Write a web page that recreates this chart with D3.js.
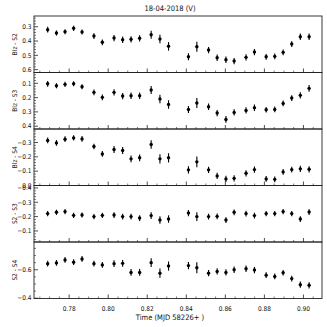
<!DOCTYPE html>
<html>
<head>
<meta charset="utf-8">
<script src="https://cdn.jsdelivr.net/npm/d3@7"></script>
<style>
    body { margin: 0; background: #fff; }
    svg text { font-family: "DejaVu Sans Condensed", "DejaVu Sans", sans-serif; fill: #111; }
</style>
</head>
<body>
<div id="chart"></div>
<script>
// Time (MJD 58226+) of each measurement
const times = [0.7690, 0.7735, 0.7779, 0.7823, 0.7866, 0.7927, 0.7970, 0.8030, 0.8074, 0.8117,
               0.8161, 0.8220, 0.8265, 0.8309, 0.8411, 0.8454, 0.8514, 0.8558, 0.8603, 0.8645,
               0.8706, 0.8749, 0.8809, 0.8853, 0.8896, 0.8940, 0.8984, 0.9029];

const blzS2 = [0.321, 0.344, 0.335, 0.311, 0.337, 0.365, 0.409, 0.379, 0.391, 0.388,
               0.381, 0.356, 0.386, 0.437, 0.510, 0.440, 0.463, 0.517, 0.531, 0.540,
               0.514, 0.477, 0.510, 0.507, 0.479, 0.421, 0.370, 0.370];
const errBlzS2 = [0.020, 0.018, 0.018, 0.018, 0.018, 0.020, 0.020, 0.022, 0.022, 0.022,
                  0.022, 0.028, 0.030, 0.030, 0.025, 0.035, 0.022, 0.022, 0.022, 0.022,
                  0.022, 0.022, 0.020, 0.020, 0.020, 0.020, 0.022, 0.022];

const blzS3 = [0.103, 0.117, 0.107, 0.103, 0.124, 0.163, 0.198, 0.163, 0.189, 0.187,
               0.187, 0.147, 0.210, 0.248, 0.283, 0.238, 0.264, 0.308, 0.353, 0.304,
               0.290, 0.271, 0.285, 0.283, 0.241, 0.203, 0.184, 0.135];
const errBlzS3 = [0.020, 0.018, 0.018, 0.018, 0.018, 0.020, 0.020, 0.022, 0.022, 0.022,
                  0.022, 0.028, 0.030, 0.030, 0.025, 0.035, 0.022, 0.022, 0.024, 0.022,
                  0.022, 0.022, 0.020, 0.020, 0.020, 0.020, 0.022, 0.024];

const blzS4 = [-0.314, -0.297, -0.323, -0.332, -0.325, -0.272, -0.220, -0.251, -0.244, -0.186,
               -0.193, -0.286, -0.186, -0.193, -0.109, -0.165, -0.109, -0.067, -0.046, -0.050,
               -0.085, -0.111, -0.046, -0.043, -0.095, -0.111, -0.116, -0.113];
const errBlzS4 = [0.020, 0.020, 0.020, 0.018, 0.020, 0.020, 0.020, 0.024, 0.024, 0.024,
                  0.024, 0.030, 0.032, 0.032, 0.025, 0.038, 0.022, 0.022, 0.022, 0.022,
                  0.022, 0.022, 0.020, 0.020, 0.020, 0.020, 0.022, 0.022];

const s2S3 = [-0.221, -0.230, -0.235, -0.209, -0.211, -0.200, -0.209, -0.211, -0.200, -0.200,
              -0.190, -0.207, -0.176, -0.183, -0.225, -0.200, -0.200, -0.202, -0.176, -0.230,
              -0.221, -0.207, -0.221, -0.221, -0.235, -0.221, -0.183, -0.232];
const errS2S3 = [0.018, 0.018, 0.018, 0.018, 0.018, 0.018, 0.018, 0.020, 0.020, 0.020,
                 0.020, 0.024, 0.026, 0.026, 0.022, 0.030, 0.020, 0.020, 0.020, 0.020,
                 0.020, 0.020, 0.018, 0.018, 0.018, 0.018, 0.020, 0.020];

const s2S4 = [-0.643, -0.648, -0.669, -0.653, -0.676, -0.643, -0.634, -0.643, -0.645, -0.581,
              -0.581, -0.650, -0.576, -0.626, -0.629, -0.614, -0.576, -0.588, -0.581, -0.600,
              -0.607, -0.598, -0.562, -0.553, -0.579, -0.538, -0.495, -0.491];
const errS2S4 = [0.020, 0.020, 0.020, 0.020, 0.020, 0.020, 0.020, 0.024, 0.024, 0.024,
                 0.024, 0.030, 0.032, 0.032, 0.026, 0.038, 0.022, 0.022, 0.022, 0.022,
                 0.022, 0.022, 0.020, 0.020, 0.020, 0.020, 0.022, 0.022];

const xTickValues = [0.78, 0.80, 0.82, 0.84, 0.86, 0.88, 0.90];

const panels = [
    { label: "Blz - S2", values: blzS2, errors: errBlzS2, domain: [0.225, 0.62], ticks: [0.3, 0.4, 0.5, 0.6], minorStep: 0.02 },
    { label: "Blz - S3", values: blzS3, errors: errBlzS3, domain: [0.024, 0.42], ticks: [0.1, 0.2, 0.3, 0.4], minorStep: 0.02 },
    { label: "Blz - S4", values: blzS4, errors: errBlzS4, domain: [-0.394, 0.0], ticks: [-0.3, -0.2, -0.1, 0.0], minorStep: 0.02 },
    { label: "S2 - S3", values: s2S3, errors: errS2S3, domain: [-0.417, -0.023], ticks: [-0.4, -0.3, -0.2, -0.1], minorStep: 0.02 },
    { label: "S2 - S4", values: s2S4, errors: errS2S4, domain: [-0.795, -0.398], ticks: [-0.6, -0.4], minorStep: 0.05 }
];


drawChart();


function drawChart() {
    const widthWithMargin = 327;
    const heightWithMargin = 327;
    const margin = { top: 16, right: 5, bottom: 28.5, left: 34 };
    const width = widthWithMargin - margin.left - margin.right;
    const height = heightWithMargin - margin.top - margin.bottom;
    const panelHeight = height / panels.length;

    const svg = d3.select('#chart').append('svg')
        .attr('width', widthWithMargin)
        .attr('height', heightWithMargin);

    const xScale = d3.scaleLinear()
        .domain([0.762, 0.9095])
        .range([margin.left, margin.left + width]);

    const xMinor = d3.range(0.765, 0.9076, 0.005).filter(v => !xTickValues.some(t => Math.abs(t - v) < 1e-6));

    svg.append('text')
        .attr('x', 170)
        .attr('y', 11)
        .attr('text-anchor', 'middle')
        .style('font-size', '7.5px')
        .text('18-04-2018  (V)');

    panels.forEach((panel, i) => {
        const top = margin.top + i * panelHeight;
        const bottom = top + panelHeight;

        // (Smaller values at the top: the magnitude axes are inverted.)
        const yScale = d3.scaleLinear()
            .domain(panel.domain)
            .range([top, bottom]);

        const g = svg.append('g');

        // x ticks along the bottom edge, pointing in
        g.selectAll('.xmajor')
            .data(xTickValues)
            .enter()
            .append('line')
            .attr('x1', d => xScale(d)).attr('x2', d => xScale(d))
            .attr('y1', bottom).attr('y2', bottom - 4)
            .attr('stroke', '#222').attr('stroke-width', 0.8);

        g.selectAll('.xminor')
            .data(xMinor)
            .enter()
            .append('line')
            .attr('x1', d => xScale(d)).attr('x2', d => xScale(d))
            .attr('y1', bottom).attr('y2', bottom - 2)
            .attr('stroke', '#222').attr('stroke-width', 0.6);

        // y ticks along the left edge, pointing in
        const yMinor = d3.range(Math.ceil(panel.domain[0] / panel.minorStep) * panel.minorStep, panel.domain[1], panel.minorStep)
            .filter(v => !panel.ticks.some(t => Math.abs(t - v) < 1e-6));

        g.selectAll('.yminor')
            .data(yMinor)
            .enter()
            .append('line')
            .attr('x1', margin.left).attr('x2', margin.left + 2)
            .attr('y1', d => yScale(d)).attr('y2', d => yScale(d))
            .attr('stroke', '#222').attr('stroke-width', 0.6);

        g.selectAll('.ymajor')
            .data(panel.ticks)
            .enter()
            .append('line')
            .attr('x1', margin.left).attr('x2', margin.left + 4)
            .attr('y1', d => yScale(d)).attr('y2', d => yScale(d))
            .attr('stroke', '#222').attr('stroke-width', 0.8);

        g.selectAll('.ylabel')
            .data(panel.ticks)
            .enter()
            .append('text')
            .attr('x', margin.left - 2.5)
            .attr('y', d => yScale(d))
            .attr('dy', '0.35em')
            .attr('text-anchor', 'end')
            .style('font-size', '6.5px')
            .text(d => d3.format('.1f')(d).replace('-', '\u2212'));

        g.append('text')
            .attr('transform', `translate(17, ${(top + bottom) / 2}) rotate(-90)`)
            .attr('text-anchor', 'middle')
            .style('font-size', '6.5px')
            .text(panel.label);

        // error bars and points
        const points = times.map((t, k) => ({ t: t, v: panel.values[k], e: panel.errors[k] }));

        g.selectAll('.err')
            .data(points)
            .enter()
            .append('line')
            .attr('x1', d => xScale(d.t)).attr('x2', d => xScale(d.t))
            .attr('y1', d => yScale(d.v - d.e)).attr('y2', d => yScale(d.v + d.e))
            .attr('stroke', '#000').attr('stroke-width', 1.1);

        g.selectAll('.pt')
            .data(points)
            .enter()
            .append('circle')
            .attr('cx', d => xScale(d.t))
            .attr('cy', d => yScale(d.v))
            .attr('r', 1.7)
            .attr('fill', '#000');

        g.append('rect')
            .attr('x', margin.left).attr('y', top)
            .attr('width', width).attr('height', panelHeight)
            .attr('fill', 'none')
            .attr('stroke', '#222').attr('stroke-width', 0.9);
    });

    svg.selectAll('.xlabel')
        .data(xTickValues)
        .enter()
        .append('text')
        .attr('x', d => xScale(d))
        .attr('y', margin.top + height + 12)
        .attr('text-anchor', 'middle')
        .style('font-size', '6.5px')
        .text(d => d3.format('.2f')(d));

    svg.append('text')
        .attr('x', 170)
        .attr('y', 320)
        .attr('text-anchor', 'middle')
        .style('font-size', '7.5px')
        .text('Time (MJD 58226+ )');
}
</script>
</body>
</html>
